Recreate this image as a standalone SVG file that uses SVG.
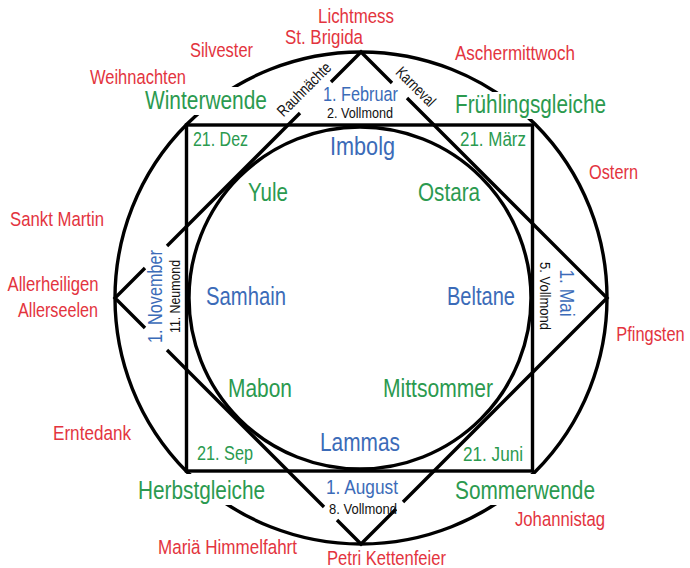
<svg xmlns="http://www.w3.org/2000/svg" width="690" height="568" viewBox="0 0 690 568">
<style>
.ln{fill:none;stroke:#000;stroke-width:3.4;stroke-linejoin:miter;stroke-miterlimit:10}
text{font-family:"Liberation Sans",Arial,sans-serif;text-anchor:middle}
.r{fill:#e3343e;font-size:20.5px}
.g{fill:#2b9a4f;font-size:25px}
.gs{fill:#2b9a4f;font-size:20px}
.b{fill:#3b6bb8;font-size:25px}
.bs{fill:#3b6bb8;font-size:20.5px}
.k{fill:#111;font-size:15px}
.kd{fill:#111;font-size:16px}
.bg{fill:#fff}
</style>
<rect width="690" height="568" fill="#fff"/>
<g id="shapes">
<circle class="ln" cx="361" cy="298" r="246"/>
<circle class="ln" cx="360" cy="298" r="171"/>
<rect class="ln" x="186.5" y="125" width="346" height="346"/>
<polyline class="ln" points="331,82 361,52 392,83"/>
<polyline class="ln" points="407,98 607,298 403,502"/>
<polyline class="ln" points="337,520 361,544 396,509"/>
<polyline class="ln" points="145,268 115,298 145,328"/>
<line class="ln" x1="300" y1="113" x2="167" y2="246"/>
<line class="ln" x1="167" y1="350" x2="324" y2="507"/>
</g>
<g id="masks">
<rect class="bg" x="142" y="87" width="128" height="28"/>
<rect class="bg" x="452" y="92" width="157" height="27"/>
<rect class="bg" x="135" y="474" width="133" height="31"/>
<rect class="bg" x="452" y="474" width="146" height="31"/>
</g>
<g id="feasts-red">
<text class="r" x="356" y="23" textLength="76" lengthAdjust="spacingAndGlyphs">Lichtmess</text>
<text class="r" x="324" y="44" textLength="78" lengthAdjust="spacingAndGlyphs">St. Brigida</text>
<text class="r" x="221.5" y="57" textLength="63" lengthAdjust="spacingAndGlyphs">Silvester</text>
<text class="r" x="138" y="84" textLength="96" lengthAdjust="spacingAndGlyphs">Weihnachten</text>
<text class="r" x="515" y="60" textLength="120" lengthAdjust="spacingAndGlyphs">Aschermittwoch</text>
<text class="r" x="613.5" y="179" textLength="49" lengthAdjust="spacingAndGlyphs">Ostern</text>
<text class="r" x="57" y="226" textLength="94" lengthAdjust="spacingAndGlyphs">Sankt Martin</text>
<text class="r" x="53" y="291" textLength="91" lengthAdjust="spacingAndGlyphs">Allerheiligen</text>
<text class="r" x="58" y="317" textLength="80" lengthAdjust="spacingAndGlyphs">Allerseelen</text>
<text class="r" transform="translate(650.5,341) scale(0.8,1)">Pfingsten</text>
<text class="r" x="92" y="440" textLength="78" lengthAdjust="spacingAndGlyphs">Erntedank</text>
<text class="r" x="227.5" y="554" textLength="139" lengthAdjust="spacingAndGlyphs">Mariä Himmelfahrt</text>
<text class="r" x="386.5" y="565" textLength="119" lengthAdjust="spacingAndGlyphs">Petri Kettenfeier</text>
<text class="r" x="560" y="526" textLength="90" lengthAdjust="spacingAndGlyphs">Johannistag</text>
</g>
<g id="solar">
<text class="g" x="206" y="109" textLength="122" lengthAdjust="spacingAndGlyphs">Winterwende</text>
<text class="g" x="530.5" y="113" textLength="151" lengthAdjust="spacingAndGlyphs">Frühlingsgleiche</text>
<text class="g" x="201.5" y="499" textLength="127" lengthAdjust="spacingAndGlyphs">Herbstgleiche</text>
<text class="g" x="525" y="499" textLength="140" lengthAdjust="spacingAndGlyphs">Sommerwende</text>
<text class="gs" x="220.5" y="146" textLength="55" lengthAdjust="spacingAndGlyphs">21. Dez</text>
<text class="gs" x="493" y="146" textLength="66" lengthAdjust="spacingAndGlyphs">21. März</text>
<text class="gs" x="225" y="460" textLength="56" lengthAdjust="spacingAndGlyphs">21. Sep</text>
<text class="gs" x="493" y="461" textLength="60" lengthAdjust="spacingAndGlyphs">21. Juni</text>
<text class="g" x="268" y="201" textLength="40" lengthAdjust="spacingAndGlyphs">Yule</text>
<text class="g" x="449" y="201" textLength="62" lengthAdjust="spacingAndGlyphs">Ostara</text>
<text class="g" x="260" y="397" textLength="64" lengthAdjust="spacingAndGlyphs">Mabon</text>
<text class="g" x="438" y="397" textLength="110" lengthAdjust="spacingAndGlyphs">Mittsommer</text>
</g>
<g id="lunar">
<text class="b" x="362.5" y="155" textLength="65" lengthAdjust="spacingAndGlyphs">Imbolg</text>
<text class="b" x="246" y="305" textLength="80" lengthAdjust="spacingAndGlyphs">Samhain</text>
<text class="b" x="481" y="305" textLength="68" lengthAdjust="spacingAndGlyphs">Beltane</text>
<text class="b" x="360" y="451" textLength="80" lengthAdjust="spacingAndGlyphs">Lammas</text>
<text class="bs" x="360.5" y="101" textLength="75" lengthAdjust="spacingAndGlyphs">1. Februar</text>
<text class="bs" x="362" y="494" textLength="72" lengthAdjust="spacingAndGlyphs">1. August</text>
<text class="bs" transform="translate(162,296.5) rotate(-90)" textLength="93" lengthAdjust="spacingAndGlyphs">1. November</text>
<text class="bs" transform="translate(560,293) rotate(90)" textLength="47" lengthAdjust="spacingAndGlyphs">1. Mai</text>
<text class="k" x="360" y="118" textLength="66" lengthAdjust="spacingAndGlyphs">2. Vollmond</text>
<text class="k" x="363" y="514" textLength="68" lengthAdjust="spacingAndGlyphs">8. Vollmond</text>
<text class="k" transform="translate(180,296.5) rotate(-90)" textLength="73" lengthAdjust="spacingAndGlyphs">11. Neumond</text>
<text class="k" transform="translate(540,296) rotate(90)" textLength="68" lengthAdjust="spacingAndGlyphs">5. Vollmond</text>
<text class="kd" transform="translate(308,93) rotate(-45)" textLength="69" lengthAdjust="spacingAndGlyphs">Rauhnächte</text>
<text class="kd" transform="translate(412,90.5) rotate(45)" textLength="49" lengthAdjust="spacingAndGlyphs">Karneval</text>
</g>
</svg>
